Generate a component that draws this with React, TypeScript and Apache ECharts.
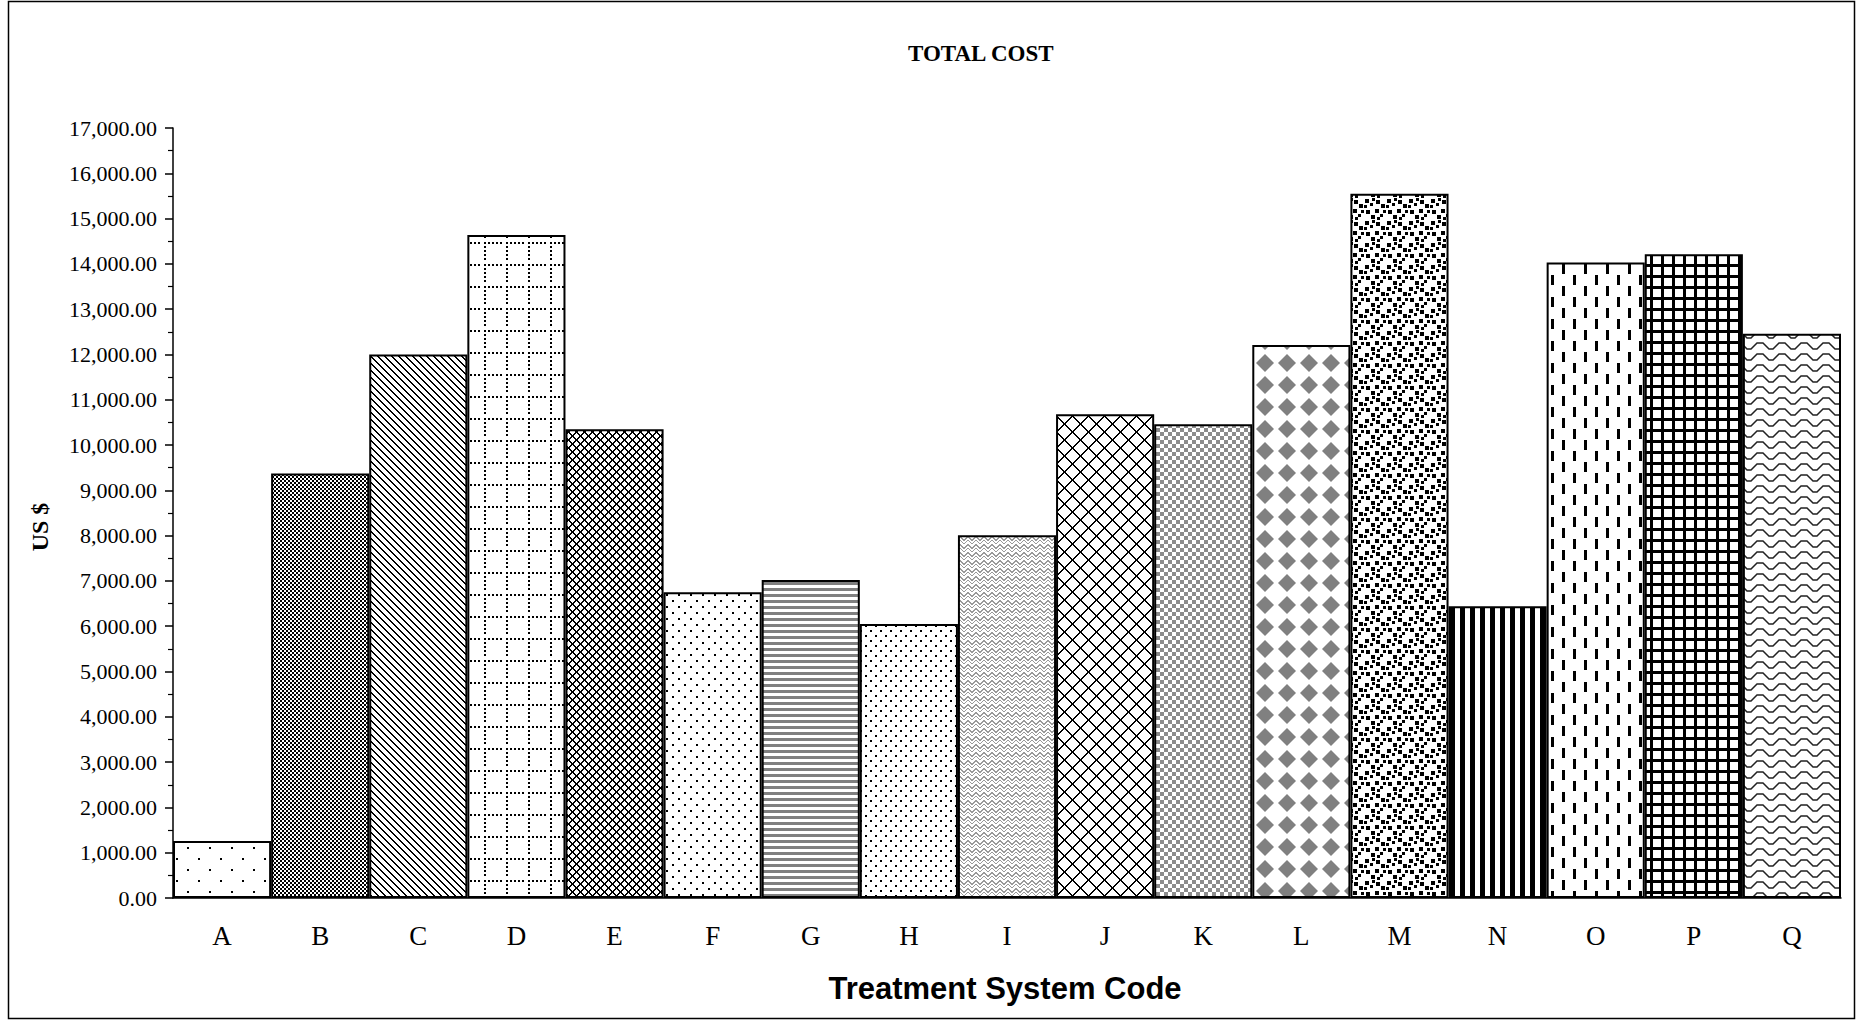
import React, { useEffect, useRef } from "react";
import * as echarts from "echarts";

// ---------- data ----------
const categories = ["A", "B", "C", "D", "E", "F", "G", "H", "I", "J", "K", "L", "M", "N", "O", "P", "Q"];
const totalCost = [1260, 9370, 12000, 14640, 10350, 6750, 7020, 6050, 8010, 10680, 10460, 12210, 15550, 6440, 14030, 14210, 12460];
const yMin = 0;
const yMax = 17000;
const yInterval = 1000;
const titleText = "TOTAL COST";
const xAxisTitle = "Treatment System Code";
const yAxisTitle = "US $";

const SERIF = '"Liberation Serif", "Times New Roman", serif';
const SANS = '"Liberation Sans", Arial, sans-serif';

type Ctx = CanvasRenderingContext2D;

function tile(w: number, h: number, draw: (c: Ctx) => void) {
  const cv = document.createElement("canvas");
  cv.width = w;
  cv.height = h;
  const c = cv.getContext("2d") as Ctx;
  c.fillStyle = "#ffffff";
  c.fillRect(0, 0, w, h);
  draw(c);
  return { image: cv.toDataURL(), repeat: "repeat", imageWidth: w, imageHeight: h } as any;
}

function buildPatterns() {
  const black = "#000000";
  const grey = "#808080";
  return [
    // A sparse dots
    tile(22, 22, (c) => {
      c.fillStyle = black;
      c.fillRect(0, 0, 2, 2);
      c.fillRect(11, 11, 2, 2);
    }),
    // B fine checker
    tile(4, 4, (c) => {
      c.fillStyle = black;
      c.fillRect(0, 0, 2, 2);
      c.fillRect(2, 2, 2, 2);
    }),
    // C diagonal lines
    tile(7, 7, (c) => {
      c.fillStyle = black;
      for (let y = 0; y < 7; y++) {
        for (let t = 0; t < 2; t++) c.fillRect((y + t) % 7, y, 1, 1);
      }
    }),
    // D dotted grid
    tile(22, 22, (c) => {
      c.fillStyle = black;
      for (let i = 0; i < 20; i += 4) {
        c.fillRect(i, 0, 2, 2);
        c.fillRect(0, i, 2, 2);
      }
    }),
    // E small trellis
    tile(8, 8, (c) => {
      c.fillStyle = black;
      for (let y = 0; y < 8; y++) {
        c.fillRect(y % 8, y, 1, 1);
        c.fillRect((y + 1) % 8, y, 1, 1);
        c.fillRect((7 - y + 8) % 8, y, 1, 1);
        c.fillRect((8 - y + 8) % 8, y, 1, 1);
      }
    }),
    // F dots
    tile(12, 12, (c) => {
      c.fillStyle = black;
      c.fillRect(0, 0, 2, 2);
      c.fillRect(6, 6, 2, 2);
    }),
    // G grey horizontal stripes
    tile(6, 6, (c) => {
      c.fillStyle = grey;
      c.fillRect(0, 0, 6, 3);
    }),
    // H denser dots
    tile(10, 10, (c) => {
      c.fillStyle = black;
      c.fillRect(0, 0, 2, 2);
      c.fillRect(5, 5, 2, 2);
    }),
    // I grey weave
    tile(8, 8, (c) => {
      c.fillStyle = "#9a9a9a";
      for (let x = 0; x < 8; x++) {
        const y = x < 4 ? x : 7 - x;
        c.fillRect(x, y, 1, 2);
        c.fillRect(x, (y + 4) % 8, 1, 1);
      }
    }),
    // J trellis
    tile(16, 16, (c) => {
      c.fillStyle = black;
      for (let i = 0; i < 16; i++) {
        c.fillRect(i % 16, i, 1, 1);
        c.fillRect((i + 1) % 16, i, 1, 1);
        c.fillRect((15 - i + 16) % 16, i, 1, 1);
        c.fillRect((16 - i + 16) % 16, i, 1, 1);
      }
    }),
    // K grey checker
    tile(8, 8, (c) => {
      c.fillStyle = "#8c8c8c";
      c.fillRect(0, 0, 4, 4);
      c.fillRect(4, 4, 4, 4);
    }),
    // L grey diamonds
    tile(22, 22, (c) => {
      c.fillStyle = grey;
      c.beginPath();
      c.moveTo(11, 2);
      c.lineTo(20, 11);
      c.lineTo(11, 20);
      c.lineTo(2, 11);
      c.closePath();
      c.fill();
    }),
    // M confetti squares
    tile(22, 22, (c) => {
      c.fillStyle = black;
      const sq = [
        [1, 1, 4], [6, 5, 3], [12, 2, 4], [17, 6, 4],
        [2, 12, 4], [7, 17, 4], [11, 11, 4], [16, 16, 3],
        [8, 0, 3], [19, 12, 3], [0, 7, 3], [13, 19, 3],
      ];
      sq.forEach(([x, y, s]) => c.fillRect(x, y, s, s));
    }),
    // N vertical stripes
    tile(10, 10, (c) => {
      c.fillStyle = black;
      c.fillRect(0, 0, 5, 10);
    }),
    // O vertical dashes
    tile(22, 22, (c) => {
      c.fillStyle = black;
      c.fillRect(0, 0, 3, 10);
      c.fillRect(11, 11, 3, 10);
    }),
    // P bold grid
    tile(11, 11, (c) => {
      c.fillStyle = black;
      c.fillRect(0, 0, 11, 3);
      c.fillRect(0, 0, 3, 11);
    }),
    // Q zigzag waves
    tile(22, 11, (c) => {
      c.strokeStyle = "#222222";
      c.lineWidth = 1.5;
      c.beginPath();
      c.moveTo(0, 2);
      c.lineTo(3, 2);
      c.lineTo(9, 8);
      c.lineTo(13, 8);
      c.lineTo(19, 2);
      c.lineTo(22, 2);
      c.stroke();
    }),
  ];
}

export default function App() {
  const ref = useRef<HTMLDivElement>(null);

  useEffect(() => {
    document.body.style.margin = "0";
    if (!ref.current) return;
    const chart = echarts.init(ref.current, null, { renderer: "svg" });
    const patterns = buildPatterns();

    const option: any = {
      animation: false,
      backgroundColor: "#ffffff",
      grid: { left: 173, right: 16, top: 128, bottom: 122, containLabel: false },
      xAxis: {
        type: "category",
        data: categories,
        axisLine: { show: true, lineStyle: { color: "#000", width: 1.5 } },
        axisTick: { show: false },
        axisLabel: { color: "#000", fontFamily: SERIF, fontSize: 27, margin: 24 },
        splitLine: { show: false },
      },
      yAxis: {
        type: "value",
        min: yMin,
        max: yMax,
        interval: yInterval,
        axisLine: { show: true, lineStyle: { color: "#000", width: 1.5 } },
        axisTick: { show: true, length: 8, inside: false, lineStyle: { color: "#000", width: 1.5 } },
        minorTick: { show: true, splitNumber: 2, length: 5, lineStyle: { color: "#000", width: 1.2 } },
        splitLine: { show: false },
        minorSplitLine: { show: false },
        axisLabel: {
          color: "#000",
          fontFamily: SERIF,
          fontSize: 22,
          margin: 16,
          formatter: (v: number) =>
            v.toLocaleString("en-US", { minimumFractionDigits: 2, maximumFractionDigits: 2 }),
        },
      },
      series: [
        {
          type: "bar",
          barCategoryGap: "0%",
          data: totalCost.map((v, i) => ({
            value: v,
            itemStyle: { color: patterns[i], borderColor: "#000", borderWidth: 2 },
          })),
        },
      ],
      graphic: [
        {
          type: "rect",
          shape: { x: 8.5, y: 1.5, width: 1846, height: 1017 },
          style: { fill: "none", stroke: "#000", lineWidth: 1.5 },
          silent: true,
          z: 100,
        },
        {
          type: "text",
          x: 908,
          y: 53,
          style: {
            text: titleText,
            fill: "#000",
            font: `bold 23px ${SERIF}`,
            textAlign: "left",
            textVerticalAlign: "middle",
            align: "left",
            verticalAlign: "middle",
          },
        },
        {
          type: "text",
          x: 1005,
          y: 988,
          style: {
            text: xAxisTitle,
            fill: "#000",
            font: `bold 31px ${SANS}`,
            textAlign: "center",
            textVerticalAlign: "middle",
            align: "center",
            verticalAlign: "middle",
          },
        },
        {
          type: "text",
          x: 40,
          y: 527,
          rotation: Math.PI / 2,
          style: {
            text: yAxisTitle,
            fill: "#000",
            font: `bold 24px ${SERIF}`,
            textAlign: "center",
            textVerticalAlign: "middle",
            align: "center",
            verticalAlign: "middle",
          },
        },
      ],
    };

    chart.setOption(option);
    return () => chart.dispose();
  }, []);

  return <div ref={ref} style={{ width: 1857, height: 1020, position: "absolute", left: 0, top: 0 }} />;
}
